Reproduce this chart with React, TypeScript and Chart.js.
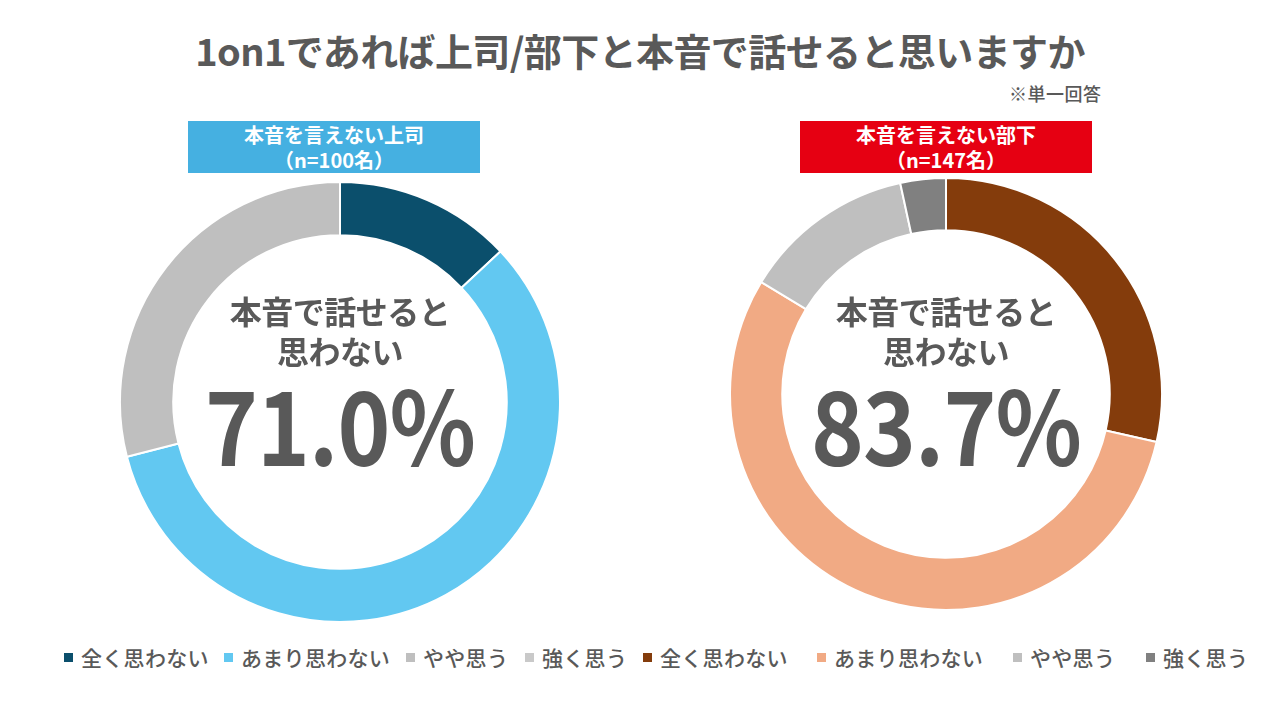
import React, { useEffect, useRef } from "react";
import { Chart, registerables } from "chart.js";

Chart.register(...registerables);

const categories = ["全く思わない", "あまり思わない", "やや思う", "強く思う"];
const bossValues = [13, 58, 29, 0];
const subordinateValues = [42, 81, 19, 5];
const bossColors = ["#0b4f6c", "#62c8f1", "#bfbfbf", "#c9c9c9"];
const subColors = ["#843c0c", "#f1aa84", "#bfbfbf", "#808080"];
const bossTotal = "71.0%";
const subTotal = "83.7%";

const FONT = '"Noto Sans CJK JP", "Noto Sans", sans-serif';
const GRAY = "#595959";

function Donut(props: { values: number[]; colors: string[]; size: number; left: number; top: number }) {
  const ref = useRef<HTMLCanvasElement | null>(null);
  useEffect(() => {
    if (!ref.current) return;
    const chart = new Chart(ref.current, {
      type: "doughnut",
      data: {
        labels: categories,
        datasets: [
          {
            data: props.values,
            backgroundColor: props.colors,
            borderColor: "#ffffff",
            borderWidth: 2,
          },
        ],
      },
      options: {
        responsive: false,
        animation: false,
        cutout: "75.8%",
        layout: { padding: 0 },
        plugins: { legend: { display: false }, tooltip: { enabled: false } },
      },
    });
    return () => chart.destroy();
  }, []);
  return (
    <canvas
      ref={ref}
      width={props.size}
      height={props.size}
      style={{ position: "absolute", left: props.left, top: props.top, width: props.size, height: props.size }}
    />
  );
}

function CenterText(props: { cx: number; value: string }) {
  return (
    <div style={{ position: "absolute", left: props.cx - 200, width: 400, top: 290, textAlign: "center", color: GRAY, fontFamily: FONT }}>
      <div style={{ fontSize: 32, fontWeight: 700, lineHeight: "40px", letterSpacing: -0.5 }}>本音で話せると</div>
      <div style={{ fontSize: 32, fontWeight: 700, lineHeight: "40px", letterSpacing: -0.5 }}>思わない</div>
      <div style={{ fontSize: 102, fontWeight: 700, lineHeight: "104px", marginTop: 0, letterSpacing: -1, transform: "scaleX(0.88)" }}>{props.value}</div>
    </div>
  );
}

const legendLeftX = [64, 224, 406, 525, 643, 817, 1013, 1146];

export default function App() {
  const legendItems = [
    ...categories.map((c, i) => ({ label: c, color: bossColors[i] })),
    ...categories.map((c, i) => ({ label: c, color: subColors[i] })),
  ];
  const boxStyle: React.CSSProperties = {
    position: "absolute",
    top: 121,
    width: 292,
    height: 52,
    color: "#fff",
    textAlign: "center",
    fontSize: 20,
    fontWeight: 700,
    lineHeight: "25px",
    paddingTop: 1,
    boxSizing: "border-box",
  };
  return (
    <div style={{ position: "fixed", left: 0, top: 0, width: 1280, height: 719, background: "#ffffff", overflow: "hidden", fontFamily: FONT }}>
      <div style={{ position: "absolute", left: 0, width: 1280, top: 24, textAlign: "center", fontSize: 38, fontWeight: 700, color: GRAY, lineHeight: "52px", letterSpacing: -0.6 }}>
        1on1であれば上司/部下と本音で話せると思いますか
      </div>
      <div style={{ position: "absolute", left: 1009, top: 80, fontSize: 18, fontWeight: 500, color: GRAY, lineHeight: "26px", letterSpacing: 0.5 }}>※単一回答</div>

      <div style={{ ...boxStyle, left: 188, background: "#45b0e1" }}>
        <div>本音を言えない上司</div>
        <div>（n=100名）</div>
      </div>
      <div style={{ ...boxStyle, left: 800, background: "#e60012" }}>
        <div>本音を言えない部下</div>
        <div>（n=147名）</div>
      </div>

      <Donut values={bossValues} colors={bossColors} size={442} left={119} top={181} />
      <Donut values={subordinateValues} colors={subColors} size={434} left={729} top={177} />

      <CenterText cx={340} value={bossTotal} />
      <CenterText cx={946} value={subTotal} />

      {legendItems.map((it, i) => (
        <div key={i} style={{ position: "absolute", left: legendLeftX[i], top: 642, height: 30, display: "flex", alignItems: "center", whiteSpace: "nowrap", color: GRAY, fontSize: 21, fontWeight: 500, letterSpacing: 0.3 }}>
          <span style={{ display: "inline-block", width: 9, height: 9, background: it.color, marginRight: 8 }} />
          <span>{it.label}</span>
        </div>
      ))}
    </div>
  );
}
